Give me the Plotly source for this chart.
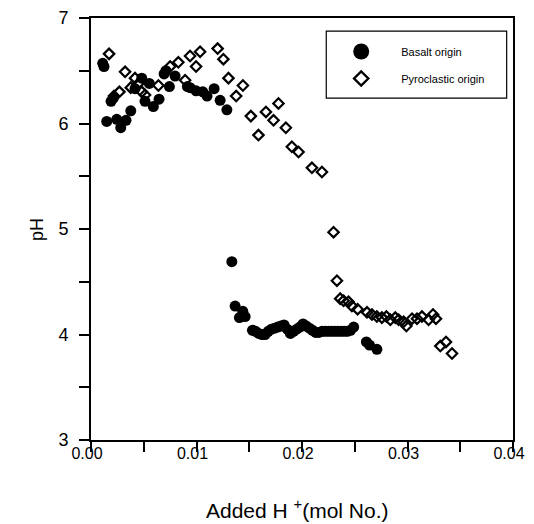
import plotly.graph_objects as go

# ---- data ----
basalt_x = [0.00111, 0.00123, 0.00149, 0.00190, 0.00212, 0.00244, 0.00282, 0.00332, 0.00377,
            0.00417, 0.00481, 0.00512, 0.00553, 0.00591, 0.00645, 0.00693, 0.00710, 0.00743,
            0.00797, 0.00914, 0.00939, 0.00996, 0.01060, 0.01100, 0.01167, 0.01224, 0.01288,
            0.01335, 0.01366, 0.01407, 0.01439, 0.01461,
            0.0153, 0.0156, 0.0159, 0.0162, 0.0165, 0.0168, 0.0171, 0.0174, 0.0177, 0.0180,
            0.0183, 0.0186, 0.0189, 0.0192, 0.0195, 0.0198, 0.0201, 0.0204, 0.0207, 0.0210,
            0.0213, 0.0216, 0.0219, 0.0222, 0.0225, 0.0228, 0.0231, 0.0234, 0.0237, 0.0240,
            0.0243, 0.0246, 0.0249, 0.0261, 0.0264, 0.0271]
basalt_ph = [6.57, 6.54, 6.02, 6.21, 6.24, 6.04, 5.96, 6.03, 6.12,
             6.33, 6.43, 6.21, 6.38, 6.16, 6.23, 6.47, 6.50, 6.35,
             6.45, 6.35, 6.34, 6.31, 6.30, 6.26, 6.33, 6.22, 6.13,
             4.69, 4.27, 4.16, 4.22, 4.17,
             4.04, 4.03, 4.01, 4.00, 4.00, 4.03, 4.05, 4.06, 4.07, 4.08,
             4.09, 4.05, 4.01, 4.03, 4.05, 4.07, 4.10, 4.08, 4.06, 4.04,
             4.02, 4.02, 4.03, 4.03, 4.03, 4.03, 4.03, 4.03, 4.03, 4.03,
             4.03, 4.04, 4.07, 3.93, 3.90, 3.86]

pyro_x = [0.00171, 0.00218, 0.00269, 0.00323, 0.00377, 0.00417, 0.00450, 0.00481, 0.00512,
          0.00639, 0.00750, 0.00828, 0.00892, 0.00939, 0.00996, 0.01034, 0.01200, 0.01255,
          0.01303, 0.01376, 0.01440, 0.01515, 0.01587, 0.01658, 0.01730, 0.01777, 0.01847,
          0.01904, 0.01967, 0.02094, 0.02189, 0.02299, 0.02331, 0.02362, 0.02394, 0.02441,
          0.02473, 0.02527, 0.02616, 0.02663, 0.02710, 0.02757, 0.02800, 0.02837, 0.02884,
          0.02916, 0.02963, 0.02989, 0.03043, 0.03090, 0.03137, 0.03200, 0.03242, 0.03270,
          0.03311, 0.03365, 0.03422]
pyro_ph = [6.66, 6.26, 6.30, 6.49, 6.34, 6.43, 6.38, 6.30, 6.27,
           6.36, 6.54, 6.58, 6.41, 6.64, 6.54, 6.68, 6.71, 6.61,
           6.43, 6.26, 6.36, 6.07, 5.89, 6.11, 6.03, 6.19, 5.96,
           5.78, 5.73, 5.58, 5.54, 4.97, 4.51, 4.34, 4.32, 4.31,
           4.27, 4.24, 4.21, 4.19, 4.17, 4.16, 4.17, 4.14, 4.16,
           4.14, 4.12, 4.08, 4.15, 4.15, 4.17, 4.14, 4.19, 4.15,
           3.89, 3.93, 3.82]

series_names = ["Basalt origin", "Pyroclastic origin"]
x_ticks = [0.00, 0.01, 0.02, 0.03, 0.04]
x_tick_labels = ["0.00", "0.01", "0.02", "0.03", "0.04"]
y_ticks = [3, 4, 5, 6, 7]

FONT = "Liberation Sans, Arial, sans-serif"

fig = go.Figure()
fig.add_trace(go.Scatter(x=basalt_x, y=basalt_ph, mode="markers", showlegend=False,
                         marker=dict(symbol="circle", size=11, color="black",
                                     line=dict(width=0))))
fig.add_trace(go.Scatter(x=pyro_x, y=pyro_ph, mode="markers", showlegend=False,
                         marker=dict(symbol="diamond-open", size=8, color="black",
                                     line=dict(width=2.2, color="black"))))
# legend entries (larger symbols, as in the reference legend)
fig.add_trace(go.Scatter(x=[None], y=[None], mode="markers", name=series_names[0],
                         legendgroup="a",
                         marker=dict(symbol="circle", size=16, color="black")))
fig.add_trace(go.Scatter(x=[None], y=[None], mode="markers", name=series_names[1],
                         legendgroup="b",
                         marker=dict(symbol="diamond-open", size=11, color="black",
                                     line=dict(width=2.4, color="black"))))

axis_common = dict(showgrid=False, zeroline=False, showline=True, linecolor="black",
                   linewidth=2, mirror=True, ticks="outside", ticklen=10, tickwidth=1.5,
                   tickcolor="black")

fig.update_xaxes(range=[0, 0.04], tickvals=x_ticks, ticktext=x_tick_labels,
                 tickfont=dict(family=FONT, size=16, color="black"),
                 ticklabelstandoff=-12, ticklabelshift=-4,
                 minor=dict(dtick=0.005, ticks="outside", ticklen=10, tickwidth=1.5,
                            tickcolor="black", showgrid=False),
                 **axis_common)
fig.update_yaxes(range=[3, 7], tickvals=y_ticks,
                 tickfont=dict(family=FONT, size=18, color="black"),
                 ticklabelstandoff=7,
                 minor=dict(dtick=0.5, ticks="outside", ticklen=10, tickwidth=1.5,
                            tickcolor="black", showgrid=False),
                 **axis_common)

fig.update_layout(
    width=534, height=524,
    margin=dict(l=91, r=21, t=18, b=84, autoexpand=False),
    paper_bgcolor="white", plot_bgcolor="white",
    font=dict(family=FONT, color="black"),
    legend=dict(x=0.5455, y=0.955, xanchor="left", yanchor="top",
                font=dict(family=FONT, size=11, color="black"),
                bgcolor="rgba(0,0,0,0)", borderwidth=0,
                traceorder="grouped", tracegroupgap=8, itemwidth=70),
    shapes=[dict(type="rect", xref="paper", yref="paper",
                 x0=0.5575, x1=0.985, y0=0.810, y1=0.969,
                 line=dict(color="black", width=1.2), fillcolor="rgba(0,0,0,0)")],
    annotations=[
        dict(text="Added H\u00a0<sup>+</sup>(mol No.)", xref="paper", yref="paper",
             x=0.487, y=-0.164, xanchor="center", yanchor="middle", showarrow=False,
             font=dict(family=FONT, size=21, color="black")),
        dict(text="pH", xref="paper", yref="paper", x=-0.128, y=0.5, textangle=-90,
             xanchor="center", yanchor="middle", showarrow=False,
             font=dict(family=FONT, size=18, color="black")),
    ],
)

# let the figure fill the 534x524 window exactly (no default page margin)
fig.write_html("out.html", config={"displayModeBar": False},
               post_script="document.body.style.margin='0';"
                           "document.body.style.overflow='hidden';")
